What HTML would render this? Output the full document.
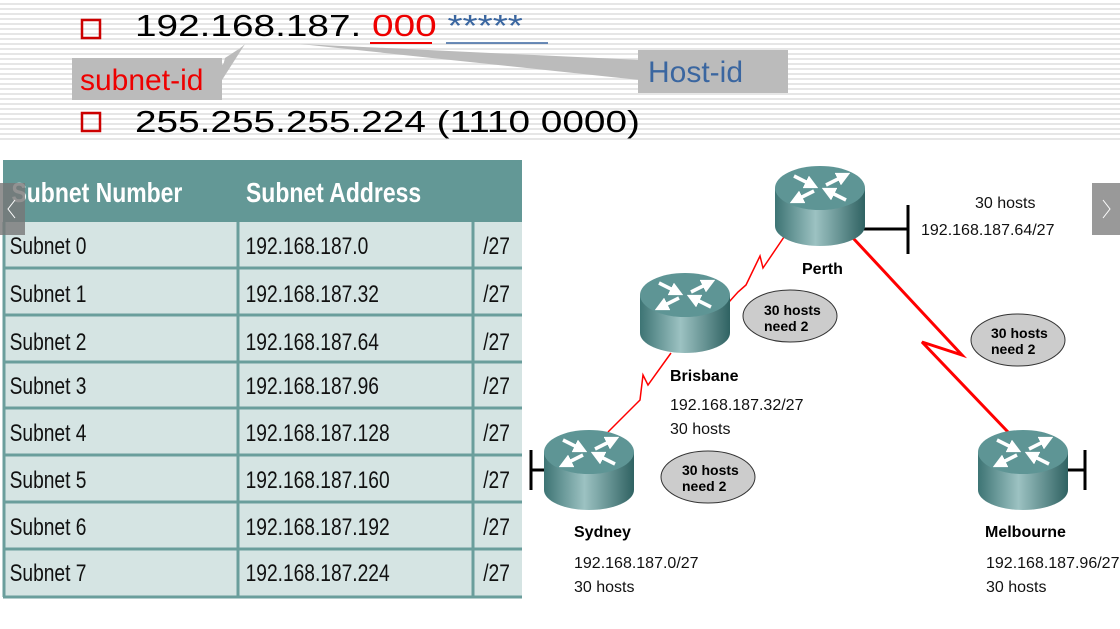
<!DOCTYPE html>
<html><head><meta charset="utf-8"><style>
body{margin:0;width:1120px;height:629px;overflow:hidden;background:#fff;font-family:"Liberation Sans",sans-serif;position:relative}
.stripes{position:absolute;left:0;top:0;width:1120px;height:142px;background:repeating-linear-gradient(#fff 0,#fff 3px,#e6e6e6 3px,#e6e6e6 5px)}
.t{position:absolute;white-space:nowrap;transform-origin:0 0}
</style></head><body>
<div class="stripes"></div>
<div style="position:absolute;left:0;top:142px;width:722px;height:10px;background:#fff"></div>
<svg width="1120" height="629" style="position:absolute;left:0;top:0">
<polygon points="245,45 225,58 222,70 240,48" fill="#bbb"/>
<polygon points="245,44 222,65 222,80" fill="#bbb"/>
<rect x="72" y="58" width="150" height="42" fill="#bbb"/>
<polygon points="300,44 640,60 640,80" fill="#bbb"/>
<rect x="638" y="50" width="150" height="43" fill="#bbb"/>
<rect x="82" y="20" width="18" height="18" fill="none" stroke="#c00" stroke-width="2.5"/>
<rect x="82" y="113" width="18" height="18" fill="none" stroke="#c00" stroke-width="2.5"/>
<line x1="370" y1="43" x2="432" y2="43" stroke="#e00" stroke-width="2"/>
<line x1="446" y1="43" x2="548" y2="43" stroke="#3a66a0" stroke-width="1.5"/>
</svg>
<div class="t" style="left:135px;top:8px;font-size:31px;color:#000;transform:scaleX(1.25)">192.168.187. <span style="color:#e00">000</span> <span style="color:#3a66a0">*****</span></div>
<div class="t" style="left:80px;top:64px;font-size:30px;color:#e00">subnet-id</div>
<div class="t" style="left:648px;top:56px;font-size:30px;color:#3a66a0">Host-id</div>
<div class="t" style="left:135px;top:104px;font-size:31px;color:#000;transform:scaleX(1.25)">255.255.255.224 (1110 0000)</div>

<svg width="1120" height="629" style="position:absolute;left:0;top:0;font-family:'Liberation Sans',sans-serif">
<rect x="3" y="160" width="519" height="437" fill="#d5e4e3"/>
<rect x="3" y="160" width="519" height="62" fill="#639896"/>
<g stroke="#6a9e9c" stroke-width="3">
<line x1="3" y1="268" x2="522" y2="268"/><line x1="3" y1="315" x2="522" y2="315"/><line x1="3" y1="362" x2="522" y2="362"/><line x1="3" y1="408" x2="522" y2="408"/><line x1="3" y1="455" x2="522" y2="455"/><line x1="3" y1="502" x2="522" y2="502"/><line x1="3" y1="549" x2="522" y2="549"/><line x1="3" y1="597" x2="522" y2="597"/>
<line x1="238" y1="222" x2="238" y2="597"/><line x1="473" y1="222" x2="473" y2="597"/><line x1="4" y1="222" x2="4" y2="597"/>
</g>
<g fill="#fff" font-size="28" font-weight="bold" transform="scale(0.82,1)">
<text x="14" y="202">Subnet Number</text><text x="300" y="202">Subnet Address</text></g>
<g fill="#111" font-size="24" transform="scale(0.8,1)">
<text x="12" y="254">Subnet 0</text><text x="307" y="254">192.168.187.0</text><text x="604" y="254">/27</text>
<text x="12" y="302">Subnet 1</text><text x="307" y="302">192.168.187.32</text><text x="604" y="302">/27</text>
<text x="12" y="350">Subnet  2</text><text x="307" y="350">192.168.187.64</text><text x="604" y="350">/27</text>
<text x="12" y="394">Subnet  3</text><text x="307" y="394">192.168.187.96</text><text x="604" y="394">/27</text>
<text x="12" y="441">Subnet  4</text><text x="307" y="441">192.168.187.128</text><text x="604" y="441">/27</text>
<text x="12" y="488">Subnet  5</text><text x="307" y="488">192.168.187.160</text><text x="604" y="488">/27</text>
<text x="12" y="535">Subnet  6</text><text x="307" y="535">192.168.187.192</text><text x="604" y="535">/27</text>
<text x="12" y="581">Subnet  7</text><text x="307" y="581">192.168.187.224</text><text x="604" y="581">/27</text>
</g>
<rect x="0" y="183" width="25" height="52" fill="#777" opacity="0.8"/>
<path d="M15 200 l-7 9 l7 9" stroke="#fff" fill="none"/>
<rect x="1092" y="183" width="28" height="52" fill="#999"/>
<path d="M1103 200 l7 9 l-7 9" stroke="#fff" fill="none"/>

<defs><linearGradient id="g" x1="0" x2="1"><stop offset="0" stop-color="#3d7474"/><stop offset="0.45" stop-color="#9cc2c2"/><stop offset="1" stop-color="#2f6262"/></linearGradient>
<marker id="a" markerWidth="4" markerHeight="4" refX="2" refY="2" orient="auto"><path d="M0 0 L4 2 L0 4z" fill="#fff"/></marker>
<g id="r"><path d="M-45 0 v38 a45 20 0 0 0 90 0 v-38z" fill="url(#g)"/><ellipse cx="0" cy="0" rx="45" ry="22" fill="#5e9595"/>
<g stroke="#fff" stroke-width="3.5" marker-end="url(#a)"><line x1="-26" y1="-12" x2="-8" y2="-3"/><line x1="26" y1="12" x2="8" y2="3"/><line x1="6" y1="-3" x2="24" y2="-12"/><line x1="-6" y1="3" x2="-24" y2="12"/></g></g></defs>

<g stroke="#f00" fill="none" stroke-linejoin="miter">
<polyline points="784,237 763,268 760,256 746,285 738,292 729,302" stroke-width="1.5"/>
<polyline points="671,353 648,385 643,375 640,400 608,432" stroke-width="1.5"/>
<polyline points="853,238 962,355 922,342 1008,432" stroke-width="3"/>
</g>
<g stroke="#000" stroke-width="3"><line x1="860" y1="229" x2="908" y2="229"/><line x1="908" y1="205" x2="908" y2="254"/>
<line x1="530" y1="470" x2="548" y2="470"/><line x1="531" y1="450" x2="531" y2="490"/>
<line x1="1065" y1="470" x2="1085" y2="470"/><line x1="1085" y1="450" x2="1085" y2="490"/></g>
<use href="#r" x="820" y="188"/><use href="#r" x="685" y="295"/><use href="#r" x="589" y="452"/><use href="#r" x="1023" y="452"/>
<g fill="#ccc" stroke="#333"><ellipse cx="790" cy="316" rx="47" ry="26"/><ellipse cx="1018" cy="340" rx="47" ry="26"/><ellipse cx="708" cy="477" rx="47" ry="26"/></g>
<g font-size="14" font-weight="bold" fill="#000">
<text x="764" y="315">30 hosts</text><text x="764" y="331">need 2</text>
<text x="991" y="338">30 hosts</text><text x="991" y="354">need 2</text>
<text x="682" y="475">30 hosts</text><text x="682" y="491">need 2</text>
<text x="802" y="274" font-size="16">Perth</text><text x="670" y="381" font-size="16">Brisbane</text>
<text x="574" y="537" font-size="16">Sydney</text><text x="985" y="537" font-size="16">Melbourne</text></g>
<g font-size="16" fill="#111">
<text x="975" y="208">30 hosts</text><text x="921" y="235">192.168.187.64/27</text>
<text x="670" y="410">192.168.187.32/27</text><text x="670" y="434">30 hosts</text>
<text x="574" y="568">192.168.187.0/27</text><text x="574" y="592">30 hosts</text>
<text x="986" y="568">192.168.187.96/27</text><text x="986" y="592">30 hosts</text></g>
</svg>
</body></html>
